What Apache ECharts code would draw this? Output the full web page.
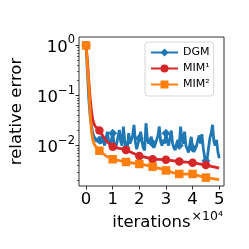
<!DOCTYPE html>
<html><head><meta charset="utf-8">
<script src="https://cdn.jsdelivr.net/npm/echarts@6/dist/echarts.min.js"></script>
<style>html,body{margin:0;padding:0;background:#fff}#c{width:249px;height:249px}</style>
</head><body><div id="c"></div>
<script>
// ---- data ----
const dgmX = [];
for (let i = 0; i <= 100; i++) dgmX.push(i * 500);
const dgmY = [1.0,0.3,0.09,0.04,0.025,0.018,0.015,0.016,0.012,0.014,
  0.013,0.011,0.016,0.012,0.010,0.014,0.019,0.012,0.010,0.013,
  0.0177,0.011,0.0085,0.011,0.015,0.0206,0.012,0.010,0.024,0.013,
  0.009,0.0082,0.0177,0.011,0.013,0.016,0.026,0.012,0.0085,0.011,
  0.014,0.019,0.012,0.009,0.008,0.028,0.014,0.011,0.013,0.015,
  0.011,0.009,0.0089,0.013,0.016,0.024,0.012,0.010,0.013,0.011,
  0.0177,0.012,0.010,0.014,0.020,0.011,0.009,0.0082,0.011,0.013,
  0.010,0.024,0.013,0.011,0.019,0.010,0.0085,0.0073,0.011,0.015,
  0.009,0.0075,0.007,0.010,0.013,0.016,0.011,0.017,0.009,0.006,
  0.005,0.0055,0.009,0.014,0.018,0.026,0.012,0.010,0.013,0.0075,0.0056];
const mim1X = [0,500,1000,1500,2000,2500,3000,3500,4000,5000,7500,10000,12500,15000,17500,20000,22500,25000,27500,30000,32500,35000,37500,40000,42500,45000,47500,50000];
const mim1Y = [1.0,0.5,0.2,0.09,0.05,0.033,0.027,0.024,0.022,0.020,0.0125,0.0095,0.0088,0.0082,0.0071,0.0062,0.0058,0.00535,0.0053,0.0052,0.0050,0.0048,0.0047,0.00457,0.0043,0.0041,0.0038,0.00355];
const mim2X = [0,500,1000,1500,2000,2500,3000,3500,4000,5000,7500,10000,12500,15000,17500,20000,22500,25000,27500,30000,32500,35000,37500,40000,42500,45000,47500,50000];
const mim2Y = [1.0,0.4,0.15,0.05,0.02,0.013,0.011,0.0098,0.009,0.0079,0.0062,0.00535,0.0050,0.00472,0.0045,0.0043,0.0041,0.0038,0.0035,0.0032,0.0029,0.00272,0.0027,0.00272,0.0025,0.0023,0.0022,0.0021];
const markerEvery = 5000;
const seriesNames = ['DGM', 'MIM\u00b9', 'MIM\u00b2'];
const xTicks = [0, 10000, 20000, 30000, 40000, 50000];
const yTickExps = [-2, -1, 0];
const yMinorVals = [];
for (let e = -3; e <= -1; e++) for (let k = 2; k <= 9; k++) yMinorVals.push(Math.log10(k * Math.pow(10, e)));

function build(xs, ys, sym) {
  return xs.map((x, i) => ({
    value: [x, Math.log10(ys[i])],
    symbol: (x % markerEvery === 0 && x < 50000) ? sym : 'none'
  }));
}

const chart = echarts.init(document.getElementById('c'), null, {renderer: 'canvas'});
const font = 'DejaVu Sans';
const supExp = e => e === 0 ? '0' : '\u2212' + (-e);
chart.setOption({
  animation: false,
  backgroundColor: '#fff',
  grid: {left: 75, top: 37, width: 149, height: 149, show: true, borderColor: '#000', borderWidth: 0.8, backgroundColor: 'transparent'},
  xAxis: {
    type: 'value', min: -2660, max: 51800,
    name: 'iterations', nameLocation: 'middle', nameGap: 28,
    nameTextStyle: {fontFamily: font, fontSize: 16.5, color: '#000'},
    splitLine: {show: false},
    axisLine: {show: false, onZero: false},
    axisTick: {show: true, customValues: xTicks, length: 3.5, lineStyle: {color: '#000', width: 0.8}},
    axisLabel: {customValues: xTicks, formatter: v => String(v / 10000), fontFamily: font, fontSize: 16.5, color: '#000', margin: 5}
  },
  yAxis: [{
    type: 'value', min: -2.806, max: 0.168,
    name: 'relative error', nameLocation: 'middle', nameGap: 54, nameRotate: 90,
    nameTextStyle: {fontFamily: font, fontSize: 16.5, color: '#000'},
    splitLine: {show: false},
    axisLine: {show: false, onZero: false},
    axisTick: {show: true, customValues: yTickExps, length: 3.5, lineStyle: {color: '#000', width: 0.8}},
    axisLabel: {
      customValues: yTickExps, margin: 4,
      formatter: v => '{b|10}{s|' + supExp(Math.round(v)) + '}',
      rich: {
        b: {fontFamily: font, fontSize: 16.5, color: '#000', verticalAlign: 'bottom', lineHeight: 22},
        s: {fontFamily: font, fontSize: 11.5, color: '#000', verticalAlign: 'top', lineHeight: 22}
      }
    }
  }, {
    type: 'value', min: -2.806, max: 0.168, position: 'left',
    splitLine: {show: false}, axisLine: {show: false, onZero: false},
    axisTick: {show: true, customValues: yMinorVals, length: 2, lineStyle: {color: '#000', width: 0.6}},
    axisLabel: {show: false}
  }],
  legend: {
    orient: 'vertical', left: 145, top: 42,
    padding: [5, 4, 6, 5], itemGap: 5, itemWidth: 27, itemHeight: 10,
    backgroundColor: 'rgba(255,255,255,0.8)', borderColor: '#cccccc', borderWidth: 0.8, borderRadius: 3,
    selectedMode: false,
    textStyle: {fontFamily: font, fontSize: 11, color: '#000', lineHeight: 10.5},
    data: seriesNames
  },
  graphic: [{type: 'text', right: 26, top: 210, style: {text: '\u00d710\u2074', fontFamily: font, fontSize: 12.5, fill: '#000'}}],
  series: [
    {name: seriesNames[0], type: 'line', data: build(dgmX, dgmY, 'diamond'), symbol: 'diamond', symbolSize: 9, showAllSymbol: true,
      color: '#1f77b4', lineStyle: {width: 2.8, color: '#1f77b4'}, itemStyle: {color: '#1f77b4'}, clip: true},
    {name: seriesNames[1], type: 'line', data: build(mim1X, mim1Y, 'circle'), symbol: 'circle', symbolSize: 8.5, showAllSymbol: true,
      color: '#d62728', lineStyle: {width: 2.8, color: '#d62728'}, itemStyle: {color: '#d62728'}, clip: true},
    {name: seriesNames[2], type: 'line', data: build(mim2X, mim2Y, 'rect'), symbol: 'rect', symbolSize: 8.5, showAllSymbol: true,
      color: '#ff7f0e', lineStyle: {width: 2.8, color: '#ff7f0e'}, itemStyle: {color: '#ff7f0e'}, clip: true}
  ]
});
</script></body></html>
